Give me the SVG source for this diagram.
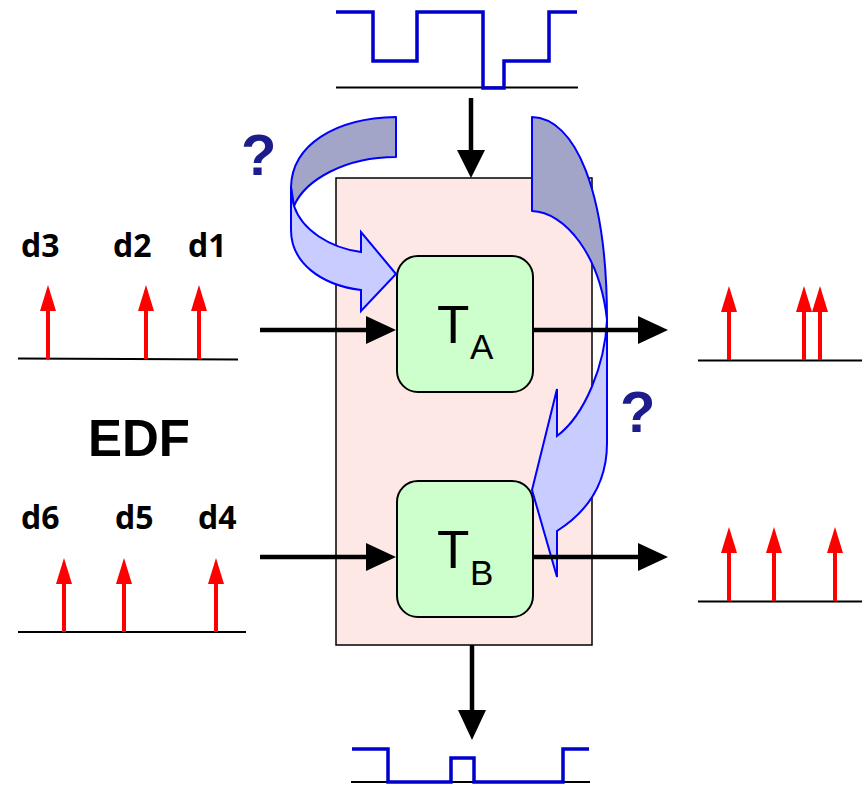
<svg xmlns="http://www.w3.org/2000/svg" width="862" height="785" viewBox="0 0 862 785">
<defs>
<style>
.wave{fill:none;stroke:#0000cc;stroke-width:3.5;stroke-linejoin:miter}
.base{fill:none;stroke:#000;stroke-width:2}
.conn{fill:none;stroke:#000;stroke-width:4.5}
.red{stroke:#ff0000;stroke-width:4}
.box{fill:#ccffcc;stroke:#000;stroke-width:2}
.dark{fill:#a3a5c8;stroke:#0000ff;stroke-width:2;stroke-linejoin:round}
.light{fill:#c8ccff;stroke:#0000ff;stroke-width:2;stroke-linejoin:miter}
.lbl{font-family:"Open Sans","DejaVu Sans",sans-serif;font-weight:bold;font-size:32px;fill:#000}
.q{font-family:"Liberation Sans",Arial,sans-serif;font-weight:bold;font-size:58px;fill:#1c1c8c}
.t{font-family:"Liberation Sans",Arial,sans-serif;fill:#000}
</style>
<g id="redArrow">
<line x1="0" y1="0" x2="0" y2="-50" class="red"/>
<path d="M-8,-48 L0,-74 L8,-48 Z" fill="#ff0000"/>
</g>
</defs>
<rect width="862" height="785" fill="#fff"/>

<!-- top waveform -->
<g id="wave-top">
<line x1="336" y1="87.5" x2="578" y2="87.5" class="base"/>
<path d="M336,12 H373 V61 H417 V12 H483 V88 H504 V61 H549 V12 H577" class="wave"/>
</g>

<!-- main box -->
<g id="container">
<rect x="336" y="178" width="256" height="467" fill="#fde8e6" stroke="#000" stroke-width="1.5"/>
</g>

<!-- task nodes -->
<g id="TA">
<rect x="397" y="256" width="136" height="136" rx="21" class="box"/>
<text x="437" y="343" class="t" font-size="53">T</text>
<text x="470" y="359" class="t" font-size="35">A</text>
</g>
<g id="TB">
<rect x="397" y="481" width="136" height="136" rx="21" class="box"/>
<text x="437" y="568" class="t" font-size="53">T</text>
<text x="470" y="585" class="t" font-size="35">B</text>
</g>

<!-- curved arrows -->
<g id="curved-left">
<path d="M396,117 C335,118 292,145 291,187 L294,206 C305,180 345,157 396,157 Z" class="dark"/>
<path d="M291,187 L291,230 C291,262 320,285 361,290 L361,311 L396,274 L361,232 L361,252 C330,248 302,230 294,206 C292,200 291,193 291,187 Z" class="light"/>
</g>
<g id="curved-right">
<path d="M532,117 C575,118 607,190 607,320 C600,255 565,212 532,211 Z" class="dark"/>
<path d="M607,320 C605,365 585,415 557,436 L557,389 L532,490 L557,577 L557,531 C590,510 607,480 607,443 Z" class="light"/>
</g>

<!-- connectors -->
<g id="connectors">
<line x1="471" y1="98" x2="471" y2="152" class="conn"/>
<path d="M457,150 L471,178 L485,150 Z"/>
<line x1="472" y1="645" x2="472" y2="712" class="conn"/>
<path d="M458,710 L472,740 L486,710 Z"/>
<line x1="260" y1="330" x2="368" y2="330" class="conn"/>
<path d="M366,316 L396,330 L366,344 Z"/>
<line x1="533" y1="330" x2="640" y2="330" class="conn"/>
<path d="M638,316 L668,330 L638,344 Z"/>
<line x1="260" y1="557" x2="368" y2="557" class="conn"/>
<path d="M366,543 L396,557 L366,571 Z"/>
<line x1="533" y1="557" x2="640" y2="557" class="conn"/>
<path d="M638,543 L668,557 L638,571 Z"/>
</g>

<!-- bottom waveform -->
<g id="wave-bottom">
<line x1="351" y1="782" x2="590" y2="782" class="base"/>
<path d="M352,749 H388 V782 H451 V758 H474 V782 H563 V749 H589" class="wave"/>
</g>

<!-- input timelines -->
<g id="input-A">
<line x1="18" y1="358.5" x2="238" y2="359.5" class="base"/>
<use href="#redArrow" x="48" y="359"/>
<use href="#redArrow" x="146" y="359"/>
<use href="#redArrow" x="199" y="359"/>
<text x="21" y="257" class="lbl">d3</text>
<text x="113" y="257" class="lbl">d2</text>
<text x="188" y="257" class="lbl">d1</text>
</g>
<g id="input-B">
<line x1="18" y1="632" x2="246" y2="632" class="base"/>
<use href="#redArrow" x="64" y="632"/>
<use href="#redArrow" x="124" y="632"/>
<use href="#redArrow" x="216" y="632"/>
<text x="21" y="529" class="lbl">d6</text>
<text x="115" y="529" class="lbl">d5</text>
<text x="198" y="529" class="lbl">d4</text>
</g>

<!-- output timelines -->
<g id="output-A">
<line x1="698" y1="360.5" x2="862" y2="360.5" class="base"/>
<use href="#redArrow" x="729" y="360"/>
<use href="#redArrow" x="804" y="360"/>
<use href="#redArrow" x="820" y="360"/>
</g>
<g id="output-B">
<line x1="698" y1="601.5" x2="862" y2="601.5" class="base"/>
<use href="#redArrow" x="729" y="601"/>
<use href="#redArrow" x="774" y="601"/>
<use href="#redArrow" x="835" y="601"/>
</g>

<text x="88" y="456" class="t" font-weight="bold" font-size="51">EDF</text>
<text x="241" y="175" class="q">?</text>
<text x="620" y="432" class="q">?</text>
</svg>
